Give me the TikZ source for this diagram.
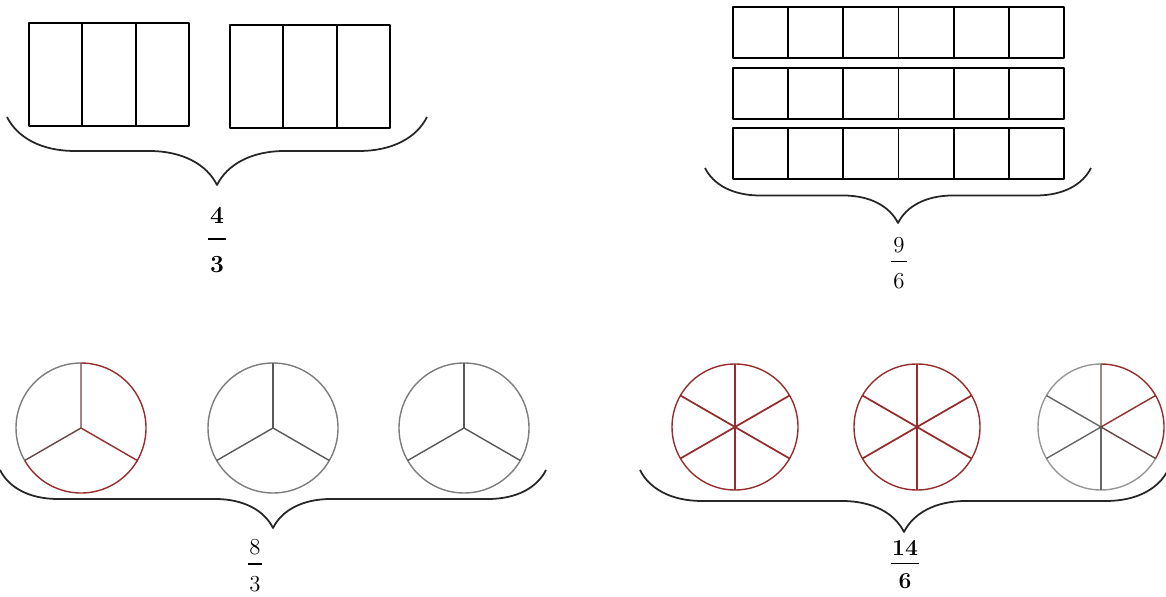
\documentclass[tikz,border=0pt]{standalone}
\usepackage{tikz}
\usetikzlibrary{calc,decorations.pathreplacing}
\definecolor{wedgered}{RGB}{150,45,45}
\definecolor{wedgegray}{RGB}{125,125,125}
\definecolor{wedgemix}{RGB}{105,70,70}

\begin{document}
\begin{tikzpicture}[x=0.02cm,y=-0.02cm,line join=round,
    cell/.style={line width=1.1pt,black},
    rim/.style={line width=0.8pt,wedgegray},
    rimred/.style={line width=0.8pt,wedgered},
    curly/.style={line width=1pt,black!85,decorate,decoration={brace,mirror,amplitude=#1}},
    frac/.style={inner sep=0pt,font=\fontsize{13}{15}\selectfont},
    boldfrac/.style={inner sep=0pt,font=\fontsize{14}{16}\selectfont\bfseries},
    fracbar/.style={line width=0.8pt}]
  \useasboundingbox (0,0) rectangle (1166,597);

  % top left: two bars in thirds
  \foreach \x/\y in {29/23,230/25} {
    \draw[cell] (\x,\y) rectangle ++(160,103);
    \foreach \i in {1,2} \draw[cell] ({\x+\i*160/3},\y) -- ++(0,103);
  }
  \coordinate (b1l) at (7,117);
  \coordinate (b1r) at (427,117);
  \draw[curly=1.36cm] (b1l) -- (b1r);
  \node[boldfrac] (num1) at (217,215) {4};
  \node[boldfrac] (den1) at (217,265) {3};
  \draw[fracbar,line width=1.1pt] ($(num1)!.5!(den1)+(-9,-1)$) -- ++(18,0);

  % top right: three bars in sixths
  \foreach \y in {7,68,128} {
    \draw[cell] (733,\y) rectangle ++(331,51);
    \foreach \i in {1,...,5} \draw[cell] ({733+\i*331/6},\y) -- ++(0,51);
  }
  \coordinate (b2l) at (705,168);
  \coordinate (b2r) at (1091,168);
  \draw[curly=1.1cm] (b2l) -- (b2r);
  \node[frac] (num2) at (899,245) {9};
  \node[frac] (den2) at (899,281.5) {6};
  \draw[fracbar] ($(num2)!.5!(den2)+(-8,-2)$) -- ++(16,0);

  % bottom left: circles in thirds
  \begin{scope}[shift={(81,428)},yscale=-1]
    \draw[rim] (90:65) arc[start angle=90,end angle=210,radius=65];
    \draw[rimred] (-150:65) arc[start angle=-150,end angle=90,radius=65];
    \draw[rimred] (0,0) -- (-30:65);
    \draw[rim,wedgemix] (0,0) -- (90:65) (0,0) -- (210:65);
  \end{scope}
  \foreach \cx in {273,464} {
    \begin{scope}[shift={(\cx,428)},yscale=-1]
      \draw[rim] (0,0) circle[radius=65];
      \foreach \a in {90,210,330} \draw[rim,black!65] (0,0) -- (\a:65);
    \end{scope}
  }
  \coordinate (b3l) at (0,470);
  \coordinate (b3r) at (546,470);
  \draw[curly=1.16cm] (b3l) -- (b3r);
  \node[frac] (num3) at (255,547.5) {8};
  \node[frac] (den3) at (255,584.5) {3};
  \draw[fracbar] ($(num3)!.5!(den3)+(-7,-2)$) -- ++(14,0);

  % bottom right: circles in sixths
  \foreach \cx in {735,917} {
    \begin{scope}[shift={(\cx,427)},yscale=-1]
      \draw[rimred] (0,0) circle[radius=63];
      \foreach \a in {30,90,...,330} \draw[rimred,line width=1pt] (0,0) -- (\a:63);
    \end{scope}
  }
  \begin{scope}[shift={(1101,427)},yscale=-1]
    \draw[rim,wedgegray!80] (90:63) arc[start angle=90,end angle=330,radius=63];
    \draw[rimred] (-30:63) arc[start angle=-30,end angle=90,radius=63];
    \foreach \a in {150,210,270} \draw[rim,black!60] (0,0) -- (\a:63);
    \draw[rimred] (0,0) -- (30:63);
    \draw[rim,wedgemix] (0,0) -- (90:63) (0,0) -- (-30:63);
  \end{scope}
  \coordinate (b4l) at (640,470);
  \coordinate (b4r) at (1168,470);
  \draw[curly=1.24cm] (b4l) -- (b4r);
  \node[boldfrac,font=\fontsize{13}{15}\selectfont\bfseries] (num4) at (905,547.5) {14};
  \node[boldfrac,font=\fontsize{13}{15}\selectfont\bfseries] (den4) at (905,581.5) {6};
  \draw[fracbar,line width=1pt] ($(num4)!.5!(den4)+(-14,-1)$) -- ++(28,0);
\end{tikzpicture}
\end{document}
